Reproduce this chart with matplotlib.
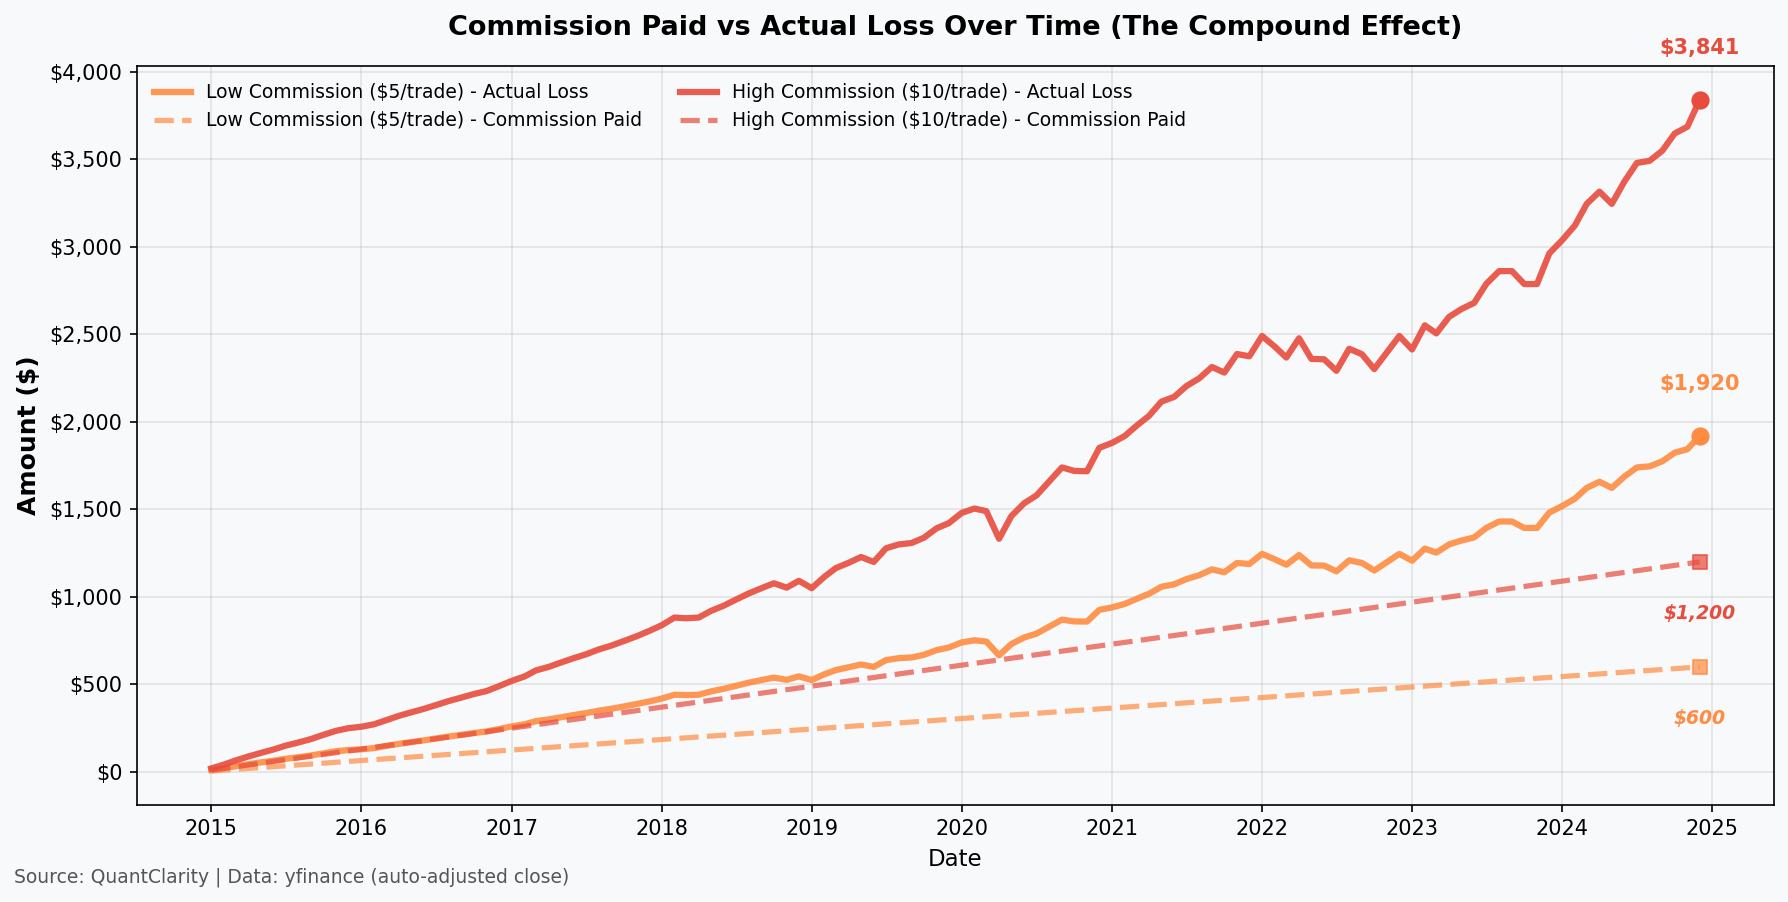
import matplotlib
matplotlib.use("Agg")
import matplotlib.pyplot as plt
import matplotlib.dates as mdates
import matplotlib.ticker as mticker
import pandas as pd

# Month-by-month loss (monthly, Jan 2015 .. Dec 2024)
high_loss = [
    20, 42, 65, 88, 108, 128, 150, 168, 188, 212, 235, 250,
    258, 272, 295, 320, 340, 360, 382, 405, 425, 445, 462, 490,
    520, 545, 580, 600, 625, 650, 672, 700, 722, 748, 775, 805,
    838, 882, 878, 882, 920, 950, 985, 1020, 1050, 1078, 1053, 1092,
    1050, 1115, 1165, 1195, 1228, 1200, 1278, 1300, 1308, 1338, 1392, 1422,
    1480, 1505, 1490, 1332, 1462, 1535, 1580, 1660, 1740, 1720, 1718, 1852,
    1880, 1920, 1977, 2035, 2116, 2143, 2205, 2249, 2314, 2282, 2388, 2375,
    2491, 2430, 2368, 2478, 2360, 2358, 2292, 2418, 2387, 2302, 2398, 2491,
    2414, 2552, 2506, 2600, 2645, 2680, 2790, 2862, 2862, 2788, 2788, 2963,
    3038, 3122, 3246, 3316, 3246, 3375, 3480, 3492, 3550, 3648, 3687, 3841,
]
low_loss = [
    10, 21, 32, 44, 54, 64, 75, 84, 94, 106, 118, 125,
    129, 136, 148, 160, 170, 180, 191, 202, 212, 222, 231, 245,
    260, 272, 290, 300, 312, 325, 336, 350, 361, 374, 388, 402,
    419, 441, 439, 441, 460, 475, 492, 510, 525, 539, 526, 546,
    525, 558, 582, 598, 614, 600, 639, 650, 654, 669, 696, 711,
    740, 752, 745, 666, 731, 768, 790, 830, 870, 860, 859, 926,
    940, 960, 988, 1018, 1058, 1072, 1102, 1124, 1157, 1141, 1194, 1188,
    1246, 1215, 1184, 1239, 1180, 1179, 1146, 1209, 1194, 1151, 1199, 1246,
    1207, 1276, 1253, 1300, 1322, 1340, 1395, 1431, 1431, 1394, 1394, 1482,
    1519, 1561, 1623, 1658, 1623, 1688, 1740, 1746, 1775, 1824, 1844, 1920,
]

# cumulative commission paid, sampled at the start of each year + final month
comm_dates = ["2015-01-01", "2016-01-01", "2017-01-01", "2018-01-01", "2019-01-01",
              "2020-01-01", "2021-01-01", "2022-01-01", "2023-01-01", "2024-01-01",
              "2024-12-01"]
high_comm = [10, 130, 250, 370, 490, 610, 730, 850, 970, 1090, 1200]
low_comm = [5, 65, 125, 185, 245, 305, 365, 425, 485, 545, 600]

dates = pd.date_range("2015-01-01", periods=len(high_loss), freq="MS")
comm_dates = pd.to_datetime(comm_dates)

LOW_COLOR = "#FF8C42"
HIGH_COLOR = "#E74C3C"
BG = "#F8F9FB"

fig, ax = plt.subplots(figsize=(1789 / 150, 902 / 150), dpi=150)
fig.patch.set_facecolor(BG)
ax.set_facecolor(BG)

ax.plot(dates, low_loss, color=LOW_COLOR, lw=3, alpha=0.9,
        label="Low Commission ($5/trade) - Actual Loss")
ax.plot(comm_dates, low_comm, color=LOW_COLOR, lw=2.5, ls="--", alpha=0.7,
        label="Low Commission ($5/trade) - Commission Paid")
ax.plot(dates, high_loss, color=HIGH_COLOR, lw=3, alpha=0.9,
        label="High Commission ($10/trade) - Actual Loss")
ax.plot(comm_dates, high_comm, color=HIGH_COLOR, lw=2.5, ls="--", alpha=0.7,
        label="High Commission ($10/trade) - Commission Paid")

# end markers + labels
ax.scatter([dates[-1]], [high_loss[-1]], s=60, color=HIGH_COLOR, zorder=5)
ax.scatter([dates[-1]], [low_loss[-1]], s=60, color=LOW_COLOR, zorder=5)
ax.scatter([comm_dates[-1]], [high_comm[-1]], s=50, marker="s", color=HIGH_COLOR, alpha=0.7, zorder=5)
ax.scatter([comm_dates[-1]], [low_comm[-1]], s=50, marker="s", color=LOW_COLOR, alpha=0.7, zorder=5)

ax.annotate(f"${high_loss[-1]:,.0f}", (dates[-1], high_loss[-1]), xytext=(0, 20),
            textcoords="offset points", ha="center", va="bottom",
            fontsize=10, fontweight="bold", color=HIGH_COLOR)
ax.annotate(f"${low_loss[-1]:,.0f}", (dates[-1], low_loss[-1]), xytext=(0, 20),
            textcoords="offset points", ha="center", va="bottom",
            fontsize=10, fontweight="bold", color=LOW_COLOR)
ax.annotate(f"${high_comm[-1]:,.0f}", (comm_dates[-1], high_comm[-1]), xytext=(0, -20),
            textcoords="offset points", ha="center", va="top",
            fontsize=9, fontweight="bold", style="italic", color=HIGH_COLOR)
ax.annotate(f"${low_comm[-1]:,.0f}", (comm_dates[-1], low_comm[-1]), xytext=(0, -20),
            textcoords="offset points", ha="center", va="top",
            fontsize=9, fontweight="bold", style="italic", color=LOW_COLOR)

ax.set_title("Commission Paid vs Actual Loss Over Time (The Compound Effect)",
             fontsize=13, fontweight="bold", pad=15)
ax.set_xlabel("Date", fontsize=11)
ax.set_ylabel("Amount ($)", fontsize=12, fontweight="bold")
ax.yaxis.set_major_formatter(mticker.FuncFormatter(lambda v, p: f"${v:,.0f}"))
ax.xaxis.set_major_locator(mdates.YearLocator())
ax.xaxis.set_major_formatter(mdates.DateFormatter("%Y"))
ax.grid(True, alpha=0.3)
ax.legend(loc="upper left", ncol=2, fontsize=9, frameon=False)

fig.text(0.008, 0.027, "Source: QuantClarity | Data: yfinance (auto-adjusted close)",
         fontsize=9, color="#555555", ha="left", va="center")

fig.subplots_adjust(left=0.0765, right=0.9917, top=0.9266, bottom=0.108)
fig.savefig("out.png", dpi=150, facecolor=BG)
